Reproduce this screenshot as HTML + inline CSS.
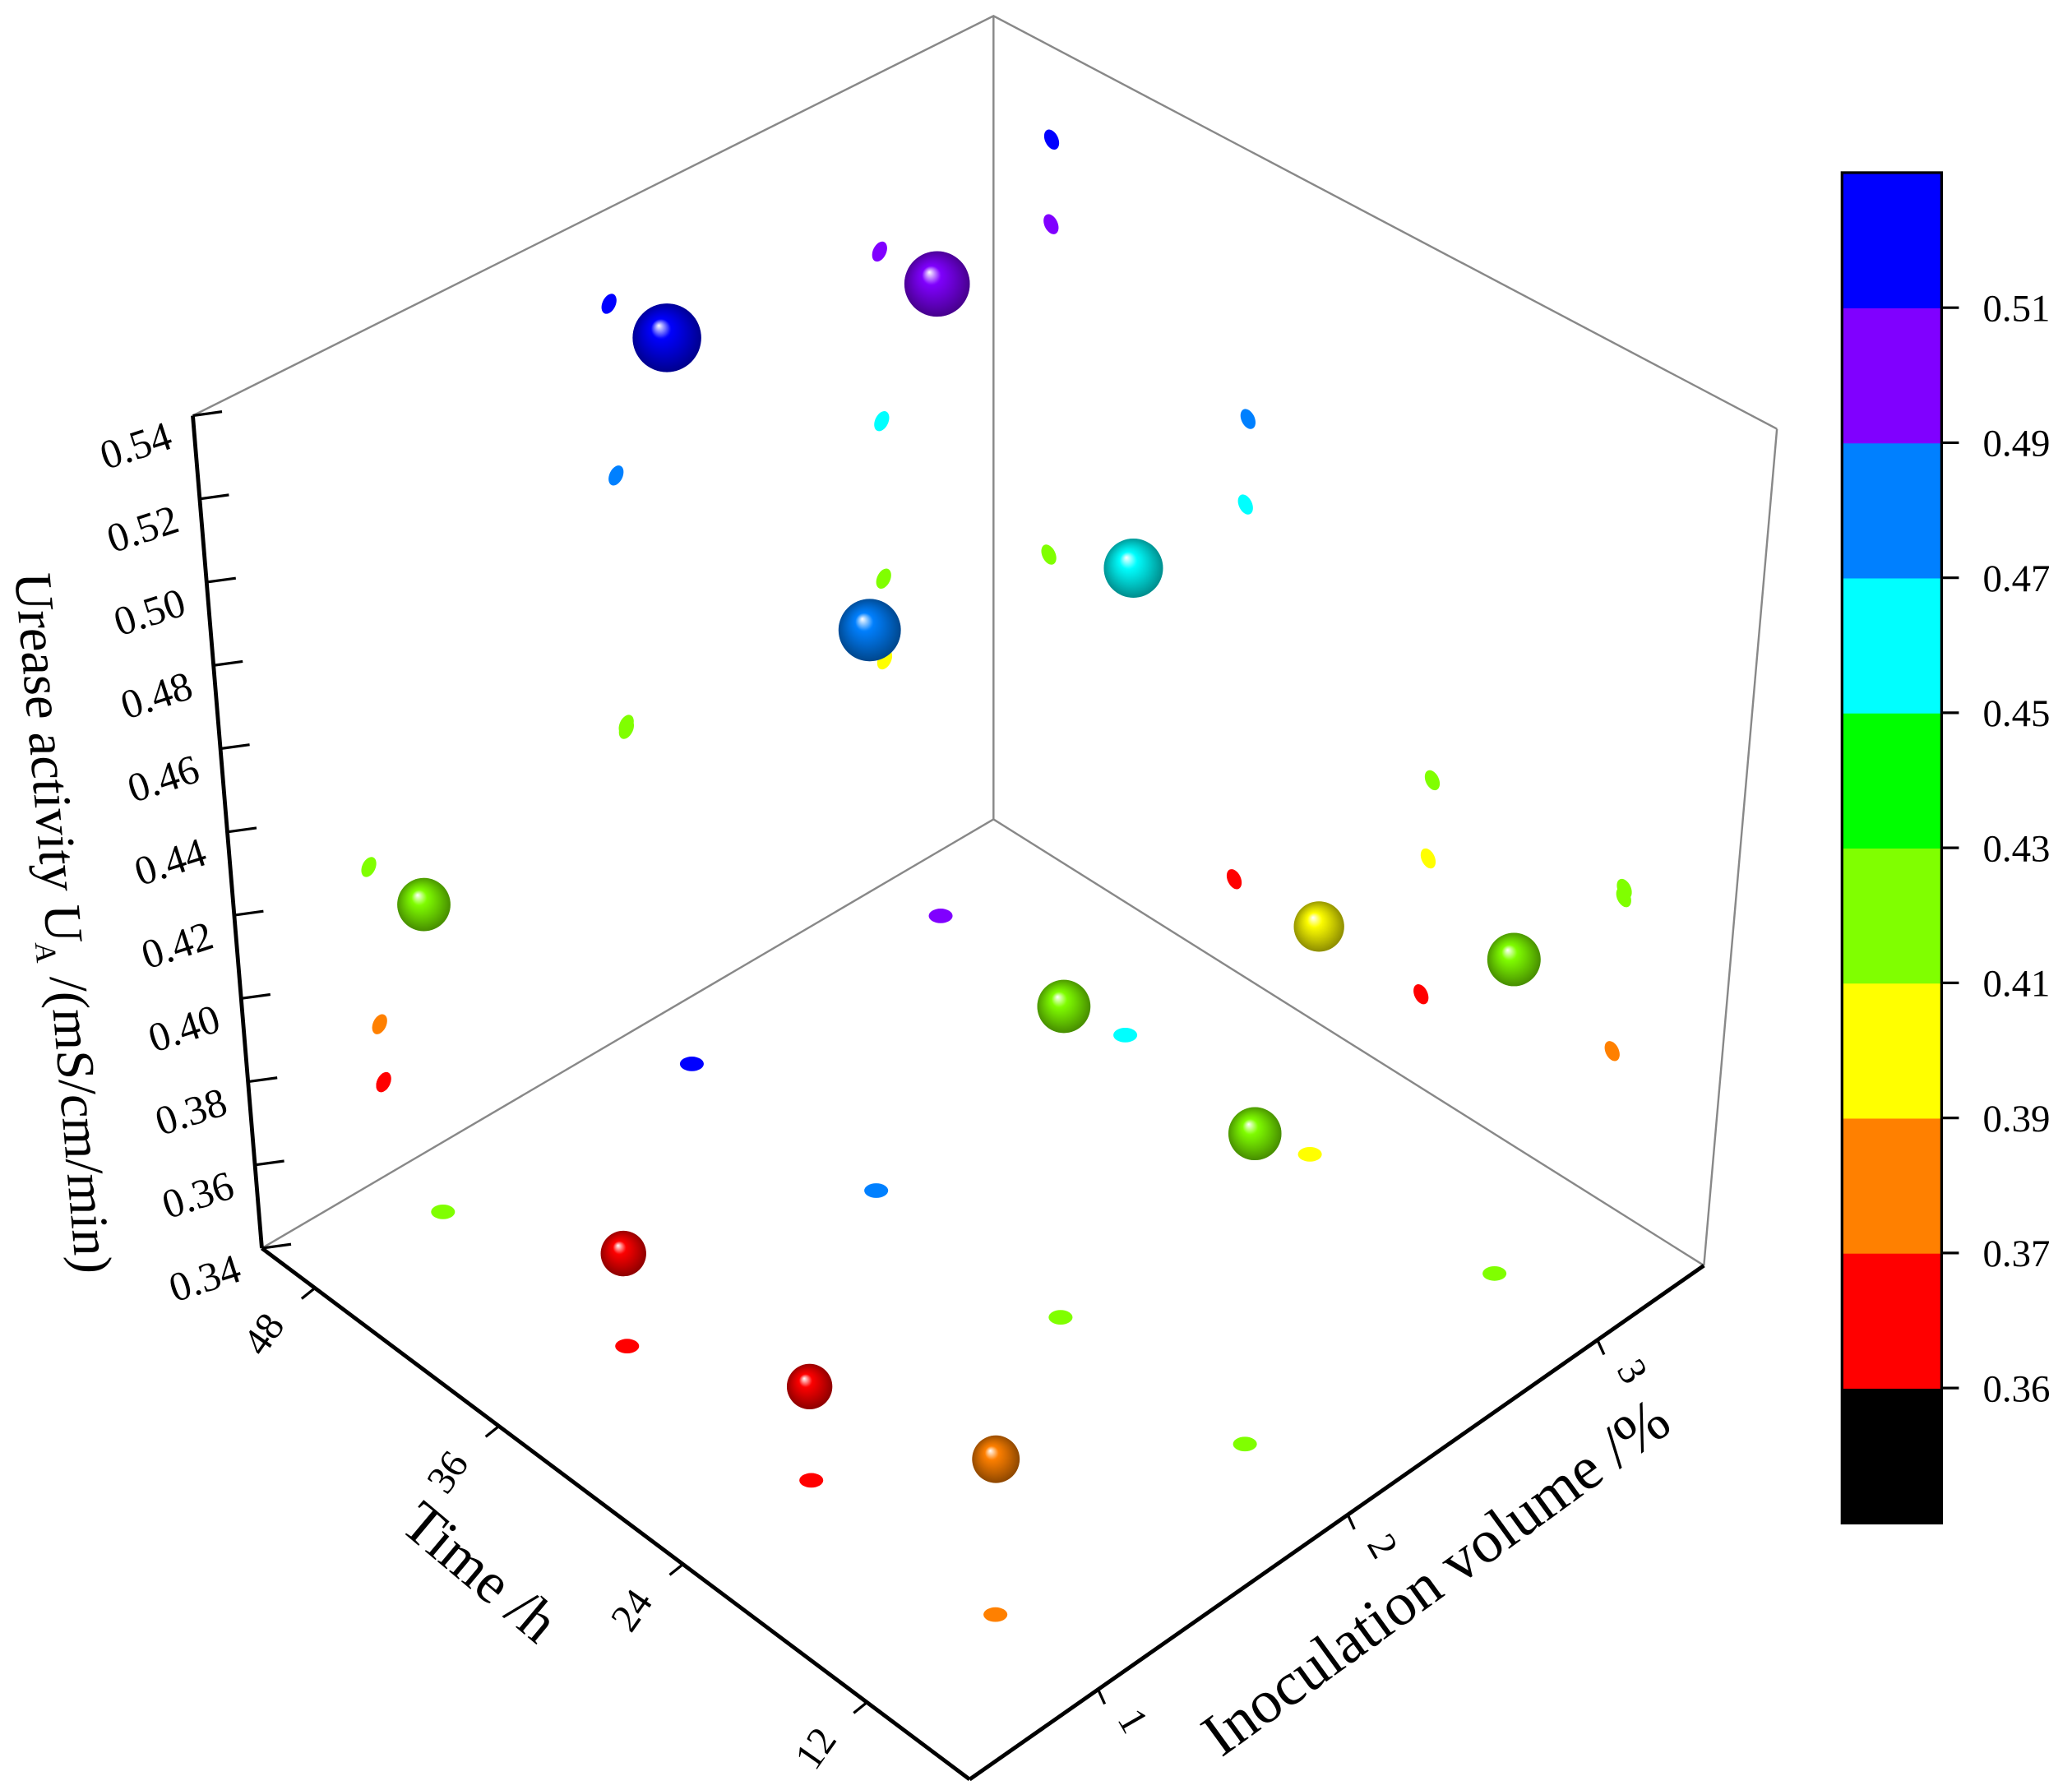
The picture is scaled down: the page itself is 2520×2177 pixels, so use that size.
<!DOCTYPE html>
<html><head><meta charset="utf-8"><style>
html,body{margin:0;padding:0;background:#fff;}
svg{display:block;font-family:"Liberation Serif",serif;}
</style></head><body>
<svg id="chart" width="2520" height="2177" viewBox="0 0 1560 1348" xmlns="http://www.w3.org/2000/svg">
<defs id="defs"></defs>
<g id="box">
  <polyline points="145,313 748,12 1338,323" fill="none" stroke="#888" stroke-width="1.5"/>
  <line x1="748" y1="12" x2="748" y2="617" stroke="#888" stroke-width="1.5"/>
  <polyline points="197,940 748,617 1283,953" fill="none" stroke="#888" stroke-width="1.5"/>
  <line x1="1338" y1="323" x2="1283" y2="953" stroke="#888" stroke-width="1.5"/>
  <line x1="145" y1="313" x2="197" y2="940" stroke="#000" stroke-width="3"/>
  <line x1="197" y1="940" x2="730" y2="1340" stroke="#000" stroke-width="3"/>
  <line x1="730" y1="1340" x2="1283" y2="953" stroke="#000" stroke-width="3"/>
</g>
<g id="axes"></g>
<g id="marks"></g>
<g id="cbar"></g>
</svg>
<script>
const inocLevels = [1, 2, 3];
const timeLevels = [12, 24, 36, 48];
const inocValues = [1,1,1,1, 2,2,2,2, 3,3,3,3];
const timeValues = [12,24,36,48, 12,24,36,48, 12,24,36,48];
const ureaseValues = [0.376,0.362,0.362,0.414, 0.413,0.414,0.475,0.517, 0.415,0.395,0.454,0.496];
const zTicks = [0.34,0.36,0.38,0.40,0.42,0.44,0.46,0.48,0.50,0.52,0.54];
const cbarTicks = [0.51,0.49,0.47,0.45,0.43,0.41,0.39,0.37,0.36];
const cbarBounds = [0.36,0.37,0.39,0.41,0.43,0.45,0.47,0.49,0.51];
const cbarColors = ["#000000","#ff0000","#ff8000","#ffff00","#80ff00","#00ff00","#00ffff","#0080ff","#8000ff","#0000ff"];

const NS="http://www.w3.org/2000/svg";
function mk(tag, attrs, parent){const e=document.createElementNS(NS,tag);for(const k in attrs)e.setAttribute(k,attrs[k]);if(parent)parent.appendChild(e);return e;}
const sOf = t => 0.075 + (48 - t) / 12 * 0.26;
const rOf = v => 0.175 + (v - 1) * 0.34;
const zOf = u => (u - 0.34) / 0.20;
const FA=[197,940],FF=[730,1340],FR=[1283,953],FB=[748,617];
const TA=[145,313],TF=[730,680],TR=[1338,323],TB=[748,12];
function bil(A,F,R,B,s,r){return [0,1].map(i=>A[i]*(1-s)*(1-r)+F[i]*s*(1-r)+R[i]*s*r+B[i]*(1-s)*r);}
function proj(s,r,z){const f=bil(FA,FF,FR,FB,s,r),t=bil(TA,TF,TR,TB,s,r);return [f[0]*(1-z)+t[0]*z,f[1]*(1-z)+t[1]*z];}
function colorOf(v){let i=0;while(i<cbarBounds.length&&v>=cbarBounds[i])i++;return cbarColors[i];}

const axes=document.getElementById('axes');
zTicks.forEach(v=>{
  const p=proj(0,0,zOf(v));
  const ln=mk('line',{x1:p[0],y1:p[1],x2:p[0]+22,y2:p[1]-3,stroke:'#000','stroke-width':2},axes);
  
  
  const tx=mk('text',{x:p[0]-14,y:p[1]+24,'font-size':31,'text-anchor':'end',transform:`rotate(-18 ${p[0]-14} ${p[1]+24})`},axes);
  tx.textContent=v.toFixed(2);
  
  
});
const zt=mk('text',{x:0,y:0,'font-size':40,'text-anchor':'middle',transform:'translate(34,695) rotate(85) skewX(-5)'},axes);
zt.innerHTML='Urease activity U<tspan font-size="22" dy="9">A</tspan><tspan dy="-9"> /(mS/cm/min)</tspan>';


timeLevels.forEach(t=>{
  const p=proj(sOf(t),0,0);
  const ln=mk('line',{x1:p[0],y1:p[1],x2:p[0]-10,y2:p[1]+8,stroke:'#000','stroke-width':2},axes);
  
  
  const tx=mk('text',{x:p[0]-22,y:p[1]+28,'font-size':30,'text-anchor':'end',transform:`rotate(-55 ${p[0]-22} ${p[1]+28})`},axes);
  tx.textContent=String(t);
  
  
});
const tt=mk('text',{x:0,y:0,'font-size':44,'text-anchor':'middle',transform:'translate(352,1195) rotate(40)'},axes);
tt.textContent='Time /h';


inocLevels.forEach(v=>{
  const p=proj(1,rOf(v),0);
  const ln=mk('line',{x1:p[0],y1:p[1],x2:p[0]+5,y2:p[1]+11,stroke:'#000','stroke-width':2},axes);
  
  
  const tx=mk('text',{x:p[0]+14,y:p[1]+22,'font-size':30,'text-anchor':'start',transform:`rotate(60 ${p[0]+14} ${p[1]+22})`},axes);
  tx.textContent=String(v);
  
  
});
const it=mk('text',{x:0,y:0,'font-size':46,'text-anchor':'middle',transform:'translate(1090,1200) rotate(-36)'},axes);
it.textContent='Inoculation volume /%';



const defs=document.getElementById('defs');
const marks=document.getElementById('marks');
const gradIds={};
function grad(c){
  if(gradIds[c])return gradIds[c];
  const id='g'+c.slice(1);
  const g=mk('radialGradient',{id:id,cx:'0.5',cy:'0.5',r:'0.55',fx:'0.38',fy:'0.32'},defs);
  mk('stop',{offset:'0',"stop-color":'#ffffff'},g);
  mk('stop',{offset:'0.25',"stop-color":c,"stop-opacity":'0.9'},g);
  mk('stop',{offset:'1',"stop-color":'#000000',"stop-opacity":'1'},g);
  const g2=mk('radialGradient',{id:id+'b',cx:'0.5',cy:'0.5',r:'0.5',fx:'0.38',fy:'0.32'},defs);
  mk('stop',{offset:'0',"stop-color":'#ffffff'},g2);
  mk('stop',{offset:'0.3',"stop-color":c},g2);
  mk('stop',{offset:'1',"stop-color":c,"stop-opacity":'1'},g2);
  gradIds[c]=id;return id;
}
ureaseValues.forEach((u,i)=>{
  const s=sOf(timeValues[i]),r=rOf(inocValues[i]),z=zOf(u),c=colorOf(u);
  const pf=proj(s,r,0),pl=proj(0,r,z),pr=proj(s,1,z);
  let e=mk('ellipse',{cx:pf[0],cy:pf[1],rx:9,ry:5.5,fill:c},marks);
  
  
  e=mk('ellipse',{cx:pl[0],cy:pl[1],rx:5,ry:8,fill:c,transform:`rotate(25 ${pl[0]} ${pl[1]})`},marks);
  
  
  e=mk('ellipse',{cx:pr[0],cy:pr[1],rx:5,ry:8,fill:c,transform:`rotate(-25 ${pr[0]} ${pr[1]})`},marks);
  
  
});
ureaseValues.forEach((u,i)=>{
  const s=sOf(timeValues[i]),r=rOf(inocValues[i]),z=zOf(u),c=colorOf(u);
  const p=proj(s,r,z);
  const rad=17+(u-0.36)/0.16*9;
  const id=grad(c);
  const b=mk('circle',{cx:p[0],cy:p[1],r:rad,fill:`url(#${id}b)`},marks);
  
  
  const sh=mk('circle',{cx:p[0],cy:p[1],r:rad,fill:`url(#${id})`,opacity:0.5},marks);
  
  
});

const cb=document.getElementById('cbar');
const cbX=1387,cbW=75,cbTop=130,cbBot=1147,n=cbarColors.length,bh=(cbBot-cbTop)/n;
cbarColors.forEach((c,i)=>{
  const y=cbBot-(i+1)*bh;
  const r=mk('rect',{x:cbX,y:y,width:cbW,height:bh+0.5,fill:c},cb);
  
  
});
const fr=mk('rect',{x:cbX,y:cbTop,width:cbW,height:cbBot-cbTop,fill:'none',stroke:'#000','stroke-width':2},cb);


cbarTicks.forEach((v,i)=>{
  const y=cbTop+(i+1)*bh;
  const l=mk('line',{x1:cbX+cbW,y1:y,x2:cbX+cbW+13,y2:y,stroke:'#000','stroke-width':2},cb);
  
  
  const t=mk('text',{x:cbX+cbW+31,y:y+10,'font-size':29},cb);
  t.textContent=v.toFixed(2);
  
  
});
</script>
</body></html>
